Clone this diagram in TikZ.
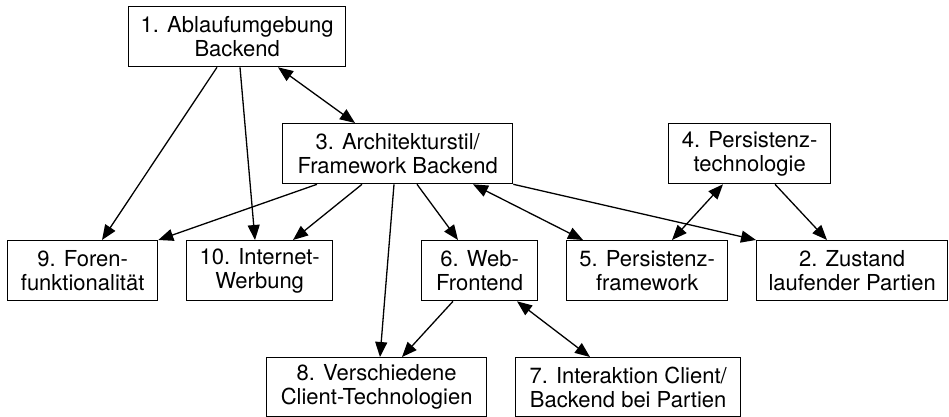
\documentclass[tikz,border=0pt]{standalone}
\usepackage{fontspec}
\setmainfont{TeX Gyre Heros}
\usetikzlibrary{arrows.meta}
\begin{document}
\begin{tikzpicture}[x=1pt,y=-1pt,
  box/.style={draw,line width=1.3pt,anchor=north west,inner sep=0pt,align=center,
    font=\fontsize{22}{24}\selectfont,minimum height=60pt},
  con/.style={line width=1.3pt,-{Triangle[length=15pt,width=12pt]}},
  bicon/.style={line width=1.3pt,{Triangle[length=15pt,width=12pt]}-{Triangle[length=15pt,width=12pt]}}]
\useasboundingbox (0,0) rectangle (949,417);
\node[box,minimum width=217pt] (b1) at (128,6) {1. Ablaufumgebung\\Backend};
\node[box,minimum width=230pt] (b3) at (282,123) {3. Architekturstil/\\Framework Backend};
\node[box,minimum width=162pt] (b4) at (668,123) {4. Persistenz-\\technologie};
\node[box,minimum width=150pt] (b9) at (7,240) {9. Foren-\\funktionalität};
\node[box,minimum width=146pt] (b10) at (186,240) {10. Internet-\\Werbung};
\node[box,minimum width=116pt] (b6) at (421,240) {6. Web-\\Frontend};
\node[box,minimum width=161pt] (b5) at (566,240) {5. Persistenz-\\framework};
\node[box,minimum width=191pt] (b2) at (756,240) {2. Zustand\\laufender Partien};
\node[box,minimum width=220pt,minimum height=59pt] (b8) at (266,357) {8. Verschiedene\\Client-Technologien};
\node[box,minimum width=225pt,minimum height=59pt] (b7) at (515,357) {7. Interaktion Client/\\Backend bei Partien};
\draw[con] ([xshift=89pt]b1.south west) -- ([xshift=95pt]b9.north west);
\draw[con] ([xshift=112pt]b1.south west) -- ([xshift=69pt]b10.north west);
\draw[bicon] ([xshift=150pt]b1.south west) -- ([xshift=73pt]b3.north west);
\draw[con] ([xshift=35pt]b3.south west) -- (b9.north east);
\draw[con] ([xshift=80pt]b3.south west) -- ([xshift=107pt]b10.north west);
\draw[con] ([xshift=112pt]b3.south west) -- ([xshift=114pt]b8.north west);
\draw[con] ([xshift=135pt]b3.south west) -- ([xshift=37pt]b6.north west);
\draw[bicon] ([xshift=191pt]b3.south west) -- ([xshift=17pt]b5.north west);
\draw[con] (b3.south east) -- (b2.north west);
\draw[bicon] ([xshift=55pt]b4.south west) -- ([xshift=106pt]b5.north west);
\draw[con] ([xshift=107pt]b4.south west) -- ([xshift=71pt]b2.north west);
\draw[con] ([xshift=32pt]b6.south west) -- ([xshift=136pt]b8.north west);
\draw[bicon] ([xshift=96pt]b6.south west) -- ([xshift=75pt]b7.north west);
\end{tikzpicture}
\end{document}
